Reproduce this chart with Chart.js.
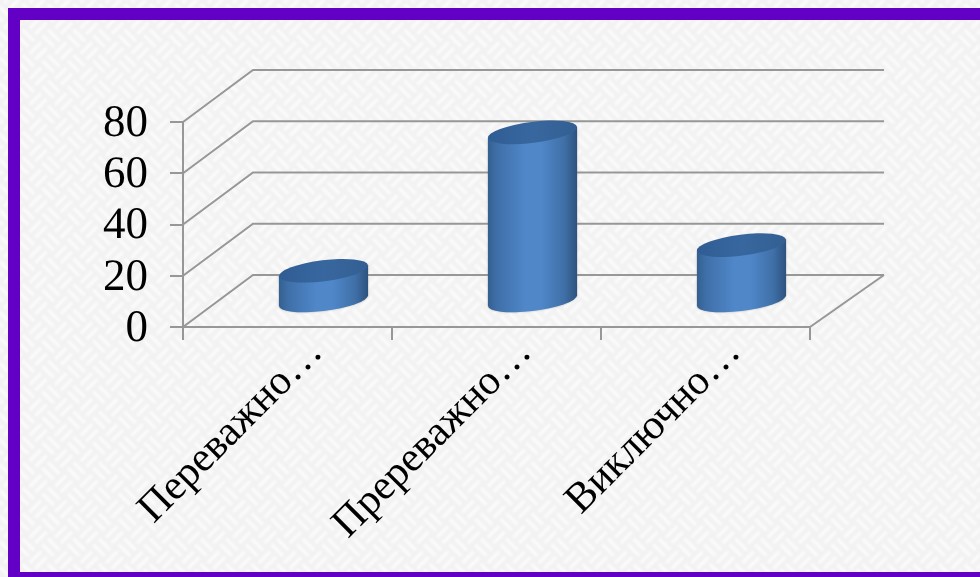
<!DOCTYPE html>
<html lang="uk">
<head>
    <meta charset="UTF-8">
    <title>Chart</title>
    <script src="https://cdn.jsdelivr.net/npm/chart.js"></script>
    <style>
        html, body { margin: 0; padding: 0; width: 980px; height: 577px; overflow: hidden; }
        body { position: relative; background-color: #f2f2f2; }
        #tejido { position: absolute; left: 0; top: 0; }
        #frame {
            position: absolute; left: 8px; top: 8px; right: 0; bottom: 0;
            border: solid #6200c6; border-width: 12px 0 5px 12px; box-sizing: border-box;
        }
        #myChart { position: absolute; left: 0; top: 0; }
    </style>
</head>
<body>
    <!-- textura del fondo -->
    <svg id="tejido" width="980" height="577">
        <defs>
            <filter id="suave"><feGaussianBlur stdDeviation="1.1"/></filter>
            <pattern id="trama" width="36" height="36" patternUnits="userSpaceOnUse" patternTransform="rotate(45)">
                <g stroke="#fff" stroke-width="3" stroke-opacity=".8">
                    <path d="M1 5H17M1 13H17M19 23H35M19 31H35"/>
                    <path d="M23 1V17M31 1V17M5 19V35M13 19V35"/>
                </g>
            </pattern>
        </defs>
        <rect width="980" height="577" fill="url(#trama)" filter="url(#suave)"/>
    </svg>
    <div id="frame"></div>
    <canvas id="myChart" width="980" height="577"></canvas>

    <script>
const categorias = ["Переважно…", "Пререважно…", "Виключно…"];
const valores = [12, 66, 22];
const ticksY = [0, 20, 40, 60, 80];

const colorGris = "#979797";
const fondoX = 70;   // profundidad del "3D"
const fondoY = -52;

// texto sin hinting, si no las letras salen anchas
const textoFino = {
    id: "textoFino",
    beforeDraw(chart) {
        chart.ctx.textRendering = "geometricPrecision";
    }
};

// paredes del grafico 3D, salen de las escalas
const paredes = {
    id: "paredes",
    beforeDatasetsDraw(chart) {
        const { ctx, scales: { x, y } } = chart;
        ctx.save();
        ctx.strokeStyle = colorGris;
        ctx.lineWidth = 2;
        ticksY.forEach((t) => {
            const py = y.getPixelForValue(t);
            ctx.beginPath();
            ctx.moveTo(x.left, py);
            ctx.lineTo(x.left + fondoX, py + fondoY);
            ctx.lineTo(x.right + fondoX + 4, py + fondoY);
            ctx.stroke();
        });
        const py0 = y.getPixelForValue(0);
        ctx.beginPath();
        ctx.moveTo(x.right, py0);
        ctx.lineTo(x.right + fondoX + 4, py0 + fondoY);
        ctx.stroke();
        ctx.restore();
    }
};

// cilindros encima de las barras (las barras quedan transparentes)
const cilindros = {
    id: "cilindros",
    afterDatasetsDraw(chart) {
        const ctx = chart.ctx;
        chart.getDatasetMeta(0).data.forEach((bar) => {
            const cx = bar.x + fondoX / 2 + 1;
            const topY = bar.y + fondoY / 2 + 0.5;
            const baseY = bar.base + fondoY / 2 + 0.5;
            const rx = bar.width / 2 + 1;
            const ry = 10.5;
            const rot = -0.125;
            // punto de la elipse donde la silueta es vertical
            const t = Math.atan(-(ry / rx) * Math.tan(rot));
            const ex = rx * Math.cos(t) * Math.cos(rot) - ry * Math.sin(t) * Math.sin(rot);
            const ey = rx * Math.cos(t) * Math.sin(rot) + ry * Math.sin(t) * Math.cos(rot);

            const grad = ctx.createLinearGradient(cx - ex, 0, cx + ex, 0);
            grad.addColorStop(0, "#34608f");
            grad.addColorStop(0.1, "#3f6fa8");
            grad.addColorStop(0.42, "#4f87c9");
            grad.addColorStop(0.6, "#4f87c9");
            grad.addColorStop(0.86, "#3f6fa6");
            grad.addColorStop(1, "#2d527f");

            ctx.save();
            ctx.fillStyle = grad;
            ctx.shadowColor = "rgba(120,120,120,.55)";
            ctx.shadowBlur = 2;
            ctx.beginPath();
            ctx.ellipse(cx, baseY, rx, ry, rot, t, t + Math.PI);
            ctx.lineTo(cx - ex, topY - ey);
            ctx.lineTo(cx + ex, topY + ey);
            ctx.closePath();
            ctx.fill();
            ctx.shadowColor = "transparent";

            const tapa = ctx.createLinearGradient(cx - ex, 0, cx + ex, 0);
            tapa.addColorStop(0, "#2f5c93");
            tapa.addColorStop(0.5, "#38679f");
            tapa.addColorStop(1, "#335f92");
            ctx.fillStyle = tapa;
            ctx.beginPath();
            ctx.ellipse(cx, topY, rx, ry, rot, 0, Math.PI * 2);
            ctx.fill();
            ctx.restore();
        });
    }
};

const fuenteY = { family: "'Liberation Serif'", size: 45 };
const fuenteX = { family: "'Liberation Serif'", size: 42 };

new Chart(document.getElementById("myChart"), {
    type: "bar",
    data: {
        labels: categorias,
        datasets: [{
            data: valores,
            backgroundColor: "transparent",
            categoryPercentage: 1,
            barPercentage: 0.42
        }]
    },
    options: {
        responsive: false,
        animation: false,
        layout: { padding: { top: 122, right: 170 } },
        plugins: { legend: { display: false }, tooltip: { enabled: false } },
        scales: {
            x: {
                afterFit: (s) => { s.height = 250; },
                grid: { color: colorGris, lineWidth: 2, drawOnChartArea: false, tickLength: 13 },
                border: { color: colorGris, width: 2 },
                ticks: {
                    autoSkip: false, maxRotation: 45, minRotation: 45,
                    labelOffset: 29, padding: -12,
                    color: "#000", font: fuenteX
                }
            },
            y: {
                min: 0,
                max: 80,
                afterFit: (s) => { s.width = 183; },
                afterBuildTicks: (s) => { s.ticks = ticksY.map((v) => ({ value: v })); },
                grid: { color: colorGris, lineWidth: 2, drawOnChartArea: false, tickLength: 13 },
                border: { color: colorGris, width: 2 },
                ticks: { autoSkip: false, color: "#000", font: fuenteY, padding: 22, labelOffset: 2 }
            }
        }
    },
    plugins: [textoFino, paredes, cilindros]
});
    </script>
</body>
</html>
